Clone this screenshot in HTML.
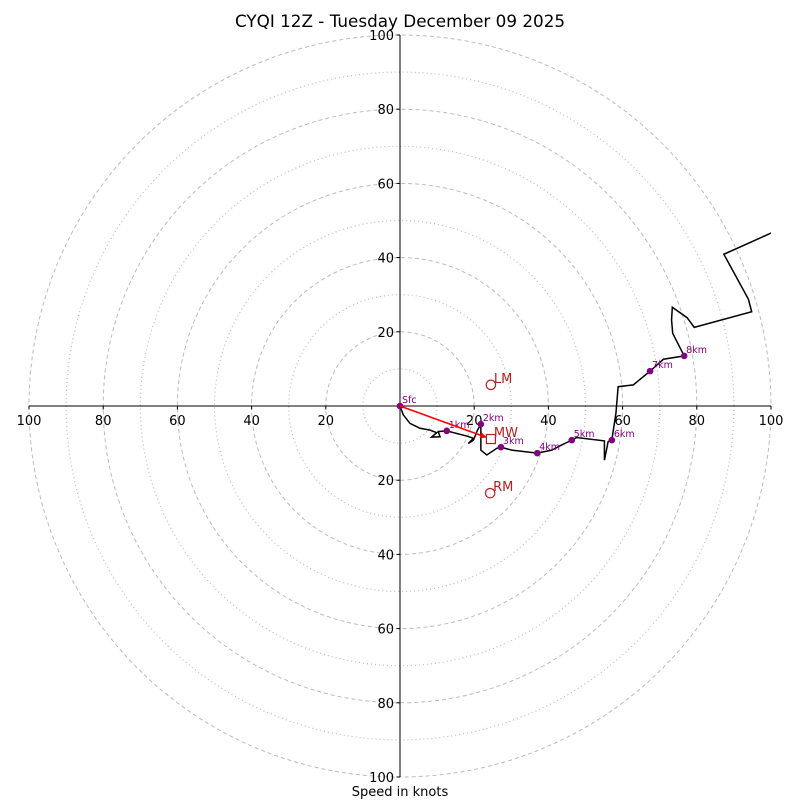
<!DOCTYPE html>
<html><head><meta charset="utf-8"><style>
html,body{margin:0;padding:0;background:#fff;}
svg{display:block;font-family:"DejaVu Sans","Liberation Sans",sans-serif;}
</style></head><body>
<svg id="chart" width="800" height="800" viewBox="0 0 800 800">
<text x="400" y="27" text-anchor="middle" font-size="16.8">CYQI 12Z - Tuesday December 09 2025</text>
<text x="400" y="796" text-anchor="middle" font-size="13">Speed in knots</text>
<defs><clipPath id="clip"><rect x="29" y="35" width="742" height="742"/></clipPath></defs>
<g id="rings"></g><g id="axes"></g><g id="plot" clip-path="url(#clip)"></g><g id="marks"></g>
</svg>
<script>
const ringValues=[10,20,30,40,50,60,70,80,90,100];
const tickLabels=[100,80,60,40,20];
const windU=[0,0.9,2.7,5.4,8.1,9.9,8.5,10.8,10.3,12.6,18.0,19.8,18.4,19.8,20.9,21.8,21.8,23.4,26.1,27.2,30.1,37.0,40.9,43.6,46.3,47.6,55.1,55.1,56.1,57.1,57.5,58.2,58.8,62.9,67.4,71.0,76.6,73.5,73.2,73.4,77.4,79.3,94.8,93.9,87.3,100.2,106];
const windV=[0,-2.4,-4.7,-6.0,-6.5,-7.2,-8.4,-8.3,-6.9,-6.7,-8.1,-8.7,-10.1,-9.2,-6.5,-4.9,-11.9,-13.2,-11.4,-11.1,-11.9,-12.7,-11.9,-10.5,-9.2,-8.5,-9.4,-14.6,-9.6,-9.2,-6.5,-2.0,5.2,5.7,9.4,12.6,13.5,19.6,23.2,26.6,23.8,21.2,25.4,28.8,40.9,46.7,49.5];
const heightLabels=["Sfc","1km","2km","3km","4km","5km","6km","7km","8km"];
const heightIndex=[0,9,15,19,21,24,29,34,36];
const stormNames=["LM","MW","RM"];
const stormU=[24.5,24.5,24.3];
const stormV=[5.7,-8.9,-23.5];

const CX=400,CY=406,S=3.71;
const sx=u=>CX+u*S, sy=v=>CY-v*S;
const NS="http://www.w3.org/2000/svg";
function mk(tag,attrs,parent){const e=document.createElementNS(NS,tag);for(const k in attrs)e.setAttribute(k,attrs[k]);parent.appendChild(e);return e;}
const rings=document.getElementById('rings'),axes=document.getElementById('axes'),plot=document.getElementById('plot'),marks=document.getElementById('marks');

ringValues.forEach(r=>{
  const c=mk('circle',{cx:CX,cy:CY,r:r*S,fill:'none',stroke:'#bbb','stroke-width':r%20===0?1:1.2,'stroke-dasharray':r%20===0?'4,3':'1,3'},rings);
  
  
});
const xa=mk('line',{x1:sx(-100),y1:CY,x2:sx(100),y2:CY,stroke:'#000','stroke-width':1},axes);


const ya=mk('line',{x1:CX,y1:sy(100),x2:CX,y2:sy(-100),stroke:'#000','stroke-width':1},axes);


tickLabels.forEach(t=>{
  [1,-1].forEach(sg=>{
    mk('line',{x1:sx(sg*t),y1:CY,x2:sx(sg*t),y2:CY+3.5,stroke:'#000'},axes);
    const tx=mk('text',{x:sx(sg*t),y:CY+19,'text-anchor':'middle','font-size':13},axes);
    tx.textContent=t;
    
    
    mk('line',{x1:CX-3.5,y1:sy(sg*t),x2:CX,y2:sy(sg*t),stroke:'#000'},axes);
    const ty=mk('text',{x:CX-6,y:sy(sg*t)+5,'text-anchor':'end','font-size':13},axes);
    ty.textContent=t;
    
    
  });
});
const pts=windU.map((u,i)=>sx(u)+','+sy(windV[i])).join(' ');
const pl=mk('polyline',{points:pts,fill:'none',stroke:'#000','stroke-width':1.5},plot);



heightIndex.forEach((idx,i)=>{
  const x=sx(windU[idx]),y=sy(windV[idx]);
  const c=mk('circle',{cx:x,cy:y,r:3.3,fill:'#800080'},marks);
  
  
  const t=mk('text',{x:x+2,y:y-3,'font-size':9.5,fill:'#800080'},marks);
  t.textContent=heightLabels[i];
  
  
});
// mean wind arrow
const mx=sx(stormU[1]),my=sy(stormV[1]);
const ang=Math.atan2(my-CY,mx-CX);
const ex=mx-4*Math.cos(ang),ey=my-4*Math.sin(ang);
const hl=7,hw=3;
const bx=ex-hl*Math.cos(ang),by=ey-hl*Math.sin(ang);
const ar=mk('line',{x1:CX,y1:CY,x2:bx,y2:by,stroke:'#f00','stroke-width':1.5},marks);


mk('polygon',{points:`${ex},${ey} ${bx-hw*Math.sin(ang)},${by+hw*Math.cos(ang)} ${bx+hw*Math.sin(ang)},${by-hw*Math.cos(ang)}`,fill:'#f00'},marks);
stormNames.forEach((n,i)=>{
  const x=sx(stormU[i]),y=sy(stormV[i]);
  let m;
  if(n==='MW') m=mk('rect',{x:x-4.5,y:y-4.5,width:9,height:9,fill:'none',stroke:'#b22222','stroke-width':1.2},marks);
  else m=mk('circle',{cx:x,cy:y,r:4.7,fill:'none',stroke:'#b22222','stroke-width':1.2},marks);
  
  
  const t=mk('text',{x:x+3,y:y-2,'font-size':13,fill:'#b22222'},marks);
  t.textContent=n;
  
  
});
</script>
</body></html>
